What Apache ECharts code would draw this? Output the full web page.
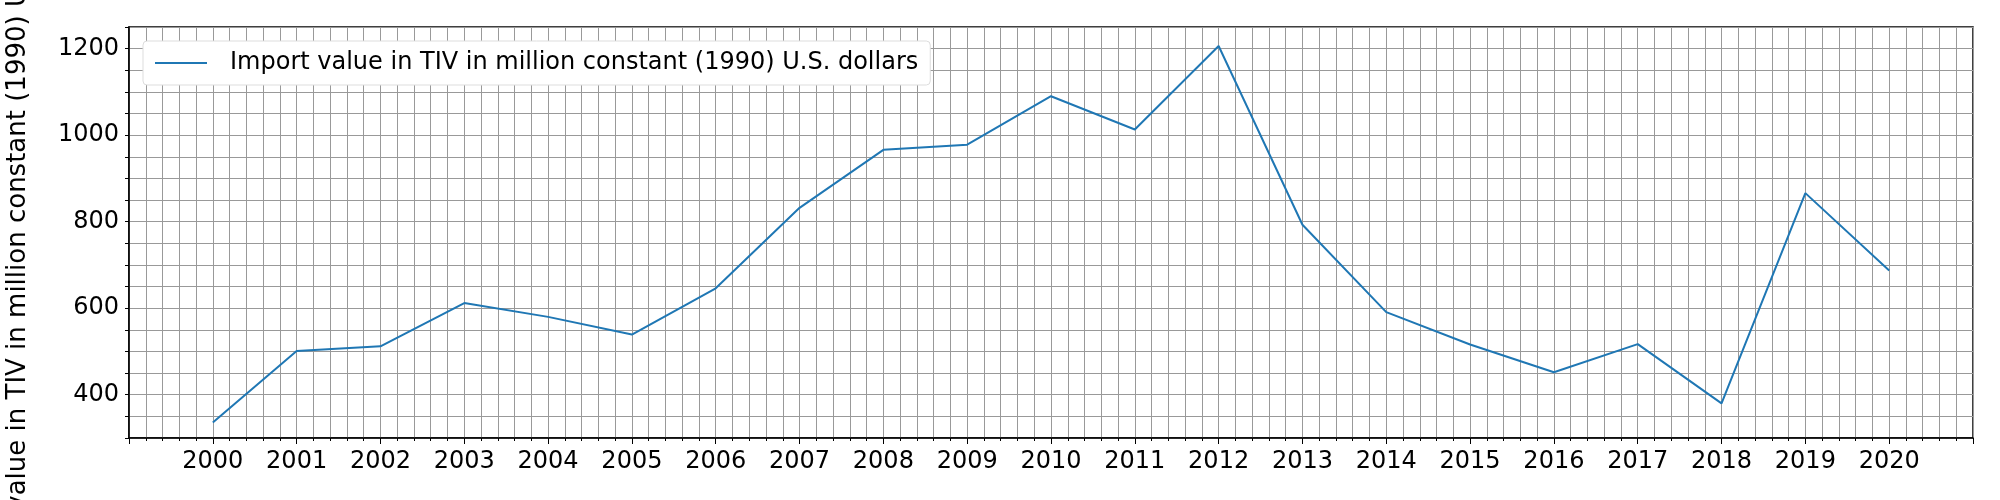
<!DOCTYPE html>
<html>
<head>
<meta charset="utf-8">
<script src="https://cdn.jsdelivr.net/npm/echarts@6/dist/echarts.min.js"></script>
<style>html,body{margin:0;padding:0;background:#fff}#chart{width:2000px;height:500px}</style>
</head>
<body>
<div id="chart"></div>
<script>
const years = [2000, 2001, 2002, 2003, 2004, 2005, 2006, 2007, 2008, 2009, 2010,
    2011, 2012, 2013, 2014, 2015, 2016, 2017, 2018, 2019, 2020]
const importValues = [336, 501, 512, 612, 580, 539, 646, 832, 966, 978, 1090,
    1013, 1206, 793, 591, 516, 452, 517, 380, 866, 687]
const seriesName = 'Import value in TIV in million constant (1990) U.S. dollars'

const chart = echarts.init(document.getElementById('chart'))
const font = 'DejaVu Sans'
const data = years.map((y, i) => [y, importValues[i]])

chart.setOption({
    animation: false,
    textStyle: {fontFamily: font},
    grid: {
        left: 129, right: 27, top: 27, bottom: 62,
        outerBoundsMode: 'none', containLabel: false,
        show: true, borderColor: '#000', borderWidth: 1.5
    },
    legend: {
        left: 143, top: 41,
        padding: [10, 12],
        backgroundColor: '#fff',
        borderColor: '#ddd', borderWidth: 1, borderRadius: 4,
        itemWidth: 52, itemHeight: 2, itemGap: 10,
        icon: 'rect',
        textStyle: {fontSize: 24, color: '#000', fontFamily: font, padding: [0, 0, 0, 18]},
        data: [seriesName]
    },
    xAxis: {
        type: 'value', min: 1999, max: 2021, interval: 1,
        axisLine: {show: true, onZero: false, lineStyle: {color: '#000', width: 1.5}},
        axisTick: {show: true, length: 6, lineStyle: {color: '#000'}},
        minorTick: {show: true, splitNumber: 5, length: 3, lineStyle: {color: '#000'}},
        axisLabel: {
            fontSize: 24, color: '#000', margin: 12,
            formatter: v => (v === 1999 || v === 2021) ? '' : String(v)
        },
        splitLine: {show: true, lineStyle: {color: '#999', width: 1}},
        minorSplitLine: {show: true, lineStyle: {color: '#999', width: 1}}
    },
    yAxis: {
        type: 'value', min: 300, max: 1250, interval: 50,
        name: seriesName,
        nameLocation: 'middle', nameGap: 98, nameRotate: 90,
        nameTextStyle: {fontSize: 26, color: '#000'},
        axisLine: {show: true, lineStyle: {color: '#000', width: 1.5}},
        axisTick: {show: true, length: 4, lineStyle: {color: '#000'}},
        axisLabel: {
            fontSize: 24, color: '#000', margin: 10,
            formatter: v => v % 200 === 0 ? String(v) : ''
        },
        splitLine: {show: true, lineStyle: {color: '#999', width: 1}}
    },
    series: [{
        name: seriesName,
        type: 'line',
        data: data,
        symbol: 'none',
        lineStyle: {color: '#1f77b4', width: 2},
        itemStyle: {color: '#1f77b4'}
    }]
})
</script>
</body>
</html>
